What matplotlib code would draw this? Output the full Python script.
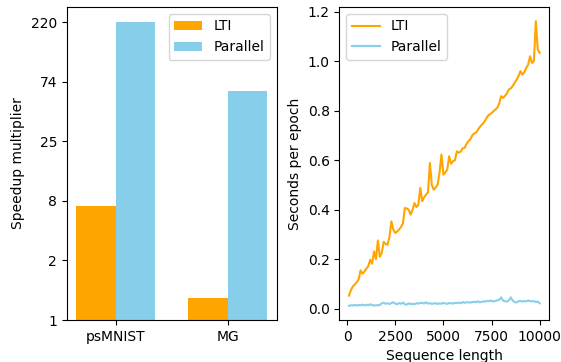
import numpy as np
import matplotlib
matplotlib.use("Agg")
import matplotlib.pyplot as plt
from matplotlib.ticker import NullLocator

# Speedup data (left panel)
tasks = ["psMNIST", "MG"]
speedup_lti = [7.9, 1.5]
speedup_parallel = [220, 63.5]

# Timing data (right panel)
seq_len = list(range(100, 10001, 100))
lti_time = [
    0.053, 0.075, 0.090, 0.098, 0.107, 0.118, 0.155, 0.142, 0.150, 0.162,
    0.172, 0.198, 0.182, 0.232, 0.200, 0.276, 0.210, 0.225, 0.270, 0.262,
    0.258, 0.290, 0.353, 0.320, 0.306, 0.312, 0.320, 0.330, 0.345, 0.407,
    0.405, 0.400, 0.380, 0.400, 0.427, 0.411, 0.420, 0.488, 0.434, 0.450,
    0.461, 0.470, 0.589, 0.500, 0.481, 0.490, 0.501, 0.550, 0.623, 0.542,
    0.550, 0.562, 0.616, 0.586, 0.596, 0.600, 0.636, 0.630, 0.635, 0.648,
    0.650, 0.665, 0.677, 0.685, 0.700, 0.708, 0.712, 0.724, 0.735, 0.744,
    0.752, 0.765, 0.778, 0.785, 0.790, 0.798, 0.805, 0.812, 0.830, 0.859,
    0.852, 0.860, 0.870, 0.886, 0.890, 0.900, 0.913, 0.925, 0.940, 0.960,
    0.946, 0.955, 0.973, 0.985, 1.020, 0.993, 1.000, 1.162, 1.047, 1.034,
]
parallel_time = [
    0.012, 0.014, 0.013, 0.016, 0.013, 0.015, 0.014, 0.017, 0.013, 0.016,
    0.014, 0.018, 0.015, 0.013, 0.014, 0.014, 0.015, 0.022, 0.024, 0.020,
    0.022, 0.019, 0.023, 0.026, 0.021, 0.018, 0.023, 0.020, 0.025, 0.018,
    0.017, 0.022, 0.019, 0.020, 0.018, 0.022, 0.021, 0.023, 0.024, 0.021,
    0.026, 0.021, 0.022, 0.020, 0.021, 0.023, 0.019, 0.022, 0.020, 0.024,
    0.021, 0.020, 0.023, 0.022, 0.021, 0.024, 0.023, 0.025, 0.022, 0.027,
    0.024, 0.026, 0.026, 0.025, 0.027, 0.028, 0.027, 0.030, 0.026, 0.028,
    0.030, 0.029, 0.032, 0.031, 0.033, 0.029, 0.032, 0.034, 0.036, 0.046,
    0.033, 0.030, 0.029, 0.034, 0.046, 0.033, 0.027, 0.025, 0.030, 0.032,
    0.029, 0.031, 0.030, 0.033, 0.031, 0.030, 0.031, 0.027, 0.029, 0.022,
]

fig, (ax1, ax2) = plt.subplots(1, 2, figsize=(5.61, 3.62), dpi=100)
fig.subplots_adjust(left=0.119, right=0.979, top=0.981, bottom=0.116, wspace=0.30)

# --- Left: speedup bars ---
x = np.arange(len(tasks))
w = 0.35
ax1.bar(x - w / 2, speedup_lti, w, color="orange", label="LTI")
ax1.bar(x + w / 2, speedup_parallel, w, color="skyblue", label="Parallel")
ax1.set_yscale("log")
ticks = np.geomspace(1, max(speedup_parallel), 6)
ax1.set_yticks(ticks)
ax1.set_yticklabels([str(int(t)) for t in ticks])
ax1.yaxis.set_minor_locator(NullLocator())
ax1.set_ylim(1, 290)
ax1.set_xticks(x)
ax1.set_xticklabels(tasks)
ax1.set_ylabel("Speedup multiplier")
ax1.legend(loc="upper right")

# --- Right: seconds per epoch ---
ax2.plot(seq_len, lti_time, color="orange", label="LTI")
ax2.plot(seq_len, parallel_time, color="skyblue", label="Parallel")
ax2.set_xlabel("Sequence length")
ax2.set_ylabel("Seconds per epoch")
ax2.legend(loc="upper left")

fig.savefig("out.png")
